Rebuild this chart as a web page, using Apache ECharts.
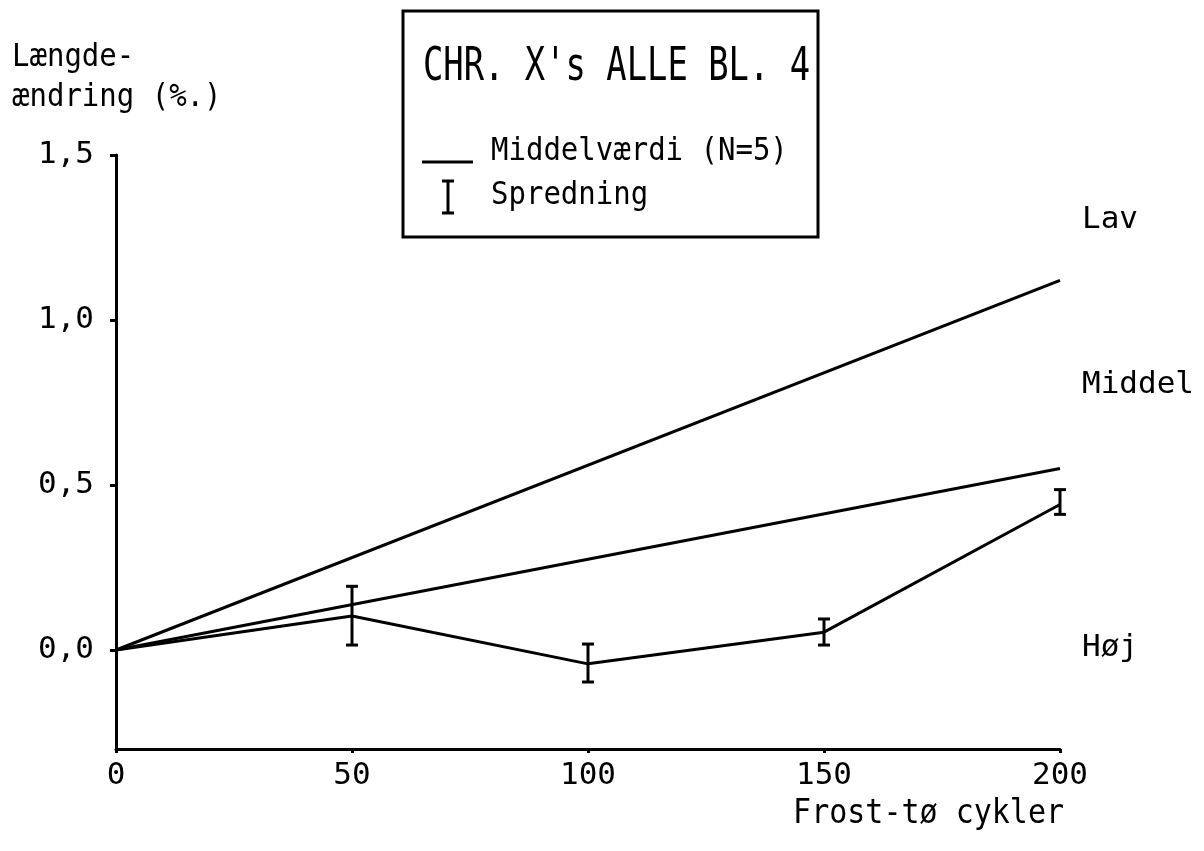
<!DOCTYPE html>
<html>
<head>
<meta charset="utf-8">
<script src="https://cdn.jsdelivr.net/npm/echarts@6/dist/echarts.min.js"></script>
<style>
  html, body { margin: 0; padding: 0; background: #fff; }
  #chart { width: 1204px; height: 851px; }
</style>
</head>
<body>
<div id="chart"></div>
<script>
// Length change (%) of test specimens against number of freeze-thaw cycles
const cycles = [0, 50, 100, 150, 200];
const lavCycles = [0, 200];
const lav = [0, 1.12];
const middelCycles = [0, 200];
const middel = [0, 0.55];
const hoj = [0, 0.103, -0.042, 0.054, 0.441];
const spredLow = [null, 0.015, -0.097, 0.015, 0.411];
const spredHigh = [null, 0.193, 0.018, 0.094, 0.486];
const yTicks = [0, 0.5, 1.0, 1.5];

const FONT = 'DejaVu Sans Mono';
const INK = '#000';
const TXT = '29px "' + FONT + '"';

const pairs = (xs, ys) => xs.map((x, i) => [x, ys[i]]);
const errData = cycles
  .map((c, i) => [c, spredLow[i], spredHigh[i]])
  .filter(d => d[1] !== null);

const chart = echarts.init(document.getElementById('chart'));

const endLabel = (name, dy) => ({
  show: true, formatter: name, color: INK, fontFamily: FONT, fontSize: 31,
  distance: 22, offset: [0, dy]
});

const option = {
  backgroundColor: '#fff',
  animation: false,
  grid: { left: 116, right: 144, top: 155, bottom: 102, containLabel: false },
  xAxis: {
    type: 'value',
    min: 0,
    max: 200,
    interval: 50,
    axisLine: { show: true, onZero: false, lineStyle: { color: INK, width: 3 } },
    axisTick: { show: true, length: 4, lineStyle: { color: INK, width: 3 } },
    splitLine: { show: false },
    axisLabel: { color: INK, fontFamily: FONT, fontSize: 31, margin: 11 }
  },
  yAxis: {
    type: 'value',
    min: -0.3,
    max: 1.5,
    axisLine: { show: true, onZero: false, lineStyle: { color: INK, width: 3 } },
    axisTick: { show: true, length: 6, customValues: yTicks, lineStyle: { color: INK, width: 3 } },
    splitLine: { show: false },
    axisLabel: {
      color: INK, fontFamily: FONT, fontSize: 31, margin: 22,
      customValues: yTicks,
      formatter: v => v.toFixed(1).replace('.', ',')
    }
  },
  series: [
    {
      name: 'Lav',
      type: 'line',
      data: pairs(lavCycles, lav),
      symbol: 'none',
      lineStyle: { color: INK, width: 3 },
      endLabel: endLabel('Lav', -60)
    },
    {
      name: 'Middel',
      type: 'line',
      data: pairs(middelCycles, middel),
      symbol: 'none',
      lineStyle: { color: INK, width: 3 },
      endLabel: endLabel('Middel', -84)
    },
    {
      name: 'Høj',
      type: 'line',
      data: pairs(cycles, hoj),
      symbol: 'none',
      lineStyle: { color: INK, width: 3 },
      endLabel: endLabel('Høj', 143)
    },
    {
      name: 'Spredning',
      type: 'custom',
      data: errData,
      renderItem: function (params, api) {
        const x = api.value(0);
        const lo = api.coord([x, api.value(1)]);
        const hi = api.coord([x, api.value(2)]);
        const hw = 6;
        const style = { stroke: INK, lineWidth: 3 };
        return {
          type: 'group',
          children: [
            { type: 'line', shape: { x1: lo[0], y1: lo[1], x2: hi[0], y2: hi[1] }, style },
            { type: 'line', shape: { x1: hi[0] - hw, y1: hi[1], x2: hi[0] + hw, y2: hi[1] }, style },
            { type: 'line', shape: { x1: lo[0] - hw, y1: lo[1], x2: lo[0] + hw, y2: lo[1] }, style }
          ]
        };
      },
      z: 5
    }
  ],
  graphic: [
    // axis titles
    { type: 'text', x: 12, y: 42, scaleY: 1.1, style: { text: 'Længde-', font: TXT, fill: INK } },
    { type: 'text', x: 12, y: 82, scaleY: 1.1, style: { text: 'ændring (%.)', font: TXT, fill: INK } },
    { type: 'text', x: 1064, y: 798, scaleY: 1.1, style: { text: 'Frost-tø cykler', font: '30px "' + FONT + '"', fill: INK, align: 'right' } },
    // legend box
    { type: 'rect', shape: { x: 403, y: 11, width: 415, height: 226 }, style: { fill: '#fff', stroke: INK, lineWidth: 3 } },
    { type: 'text', x: 423, y: 44, scaleX: 0.72, style: { text: "CHR. X's ALLE BL. 4", font: '47px "' + FONT + '"', fill: INK } },
    { type: 'line', shape: { x1: 422, y1: 162, x2: 473, y2: 162 }, style: { stroke: INK, lineWidth: 3 } },
    { type: 'text', x: 491, y: 136, scaleY: 1.1, style: { text: 'Middelværdi (N=5)', font: TXT, fill: INK } },
    { type: 'line', shape: { x1: 448, y1: 181, x2: 448, y2: 213 }, style: { stroke: INK, lineWidth: 3 } },
    { type: 'line', shape: { x1: 442, y1: 181, x2: 454, y2: 181 }, style: { stroke: INK, lineWidth: 3 } },
    { type: 'line', shape: { x1: 442, y1: 213, x2: 454, y2: 213 }, style: { stroke: INK, lineWidth: 3 } },
    { type: 'text', x: 491, y: 180, scaleY: 1.1, style: { text: 'Spredning', font: TXT, fill: INK } }
  ]
};

chart.setOption(option);
</script>
</body>
</html>
